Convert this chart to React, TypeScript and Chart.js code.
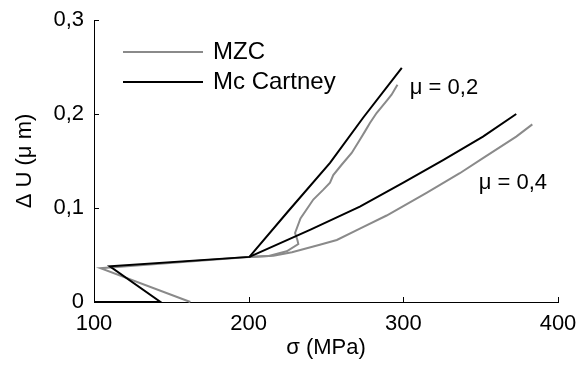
import React, { useEffect, useRef } from "react";
import { Chart, registerables } from "chart.js";

Chart.register(...registerables);

// ---- Data ----
const xTicks = [100, 200, 300, 400];
const yTicks = [0, 0.1, 0.2, 0.3];

const legendLabels = ["MZC", "Mc Cartney"];
const seriesColors = ["#8a8a8a", "#000000"];

// Mc Cartney, mu = 0.2 (includes the common unloading/loading part)
const mcCartneyMu02X = [100, 143, 110.2, 200.5, 225, 252.6, 274, 299];
const mcCartneyMu02Y = [0, 0, 0.038, 0.048, 0.0955, 0.148, 0.196, 0.249];

// Mc Cartney, mu = 0.4 (branch)
const mcCartneyMu04X = [200.5, 240, 271.9, 300, 325.7, 351.5, 373];
const mcCartneyMu04Y = [0.048, 0.077, 0.1015, 0.127, 0.151, 0.176, 0.2];

// MZC, mu = 0.2
const mzcMu02X = [
  162.3, 104.2, 200, 213, 224.6, 232.1, 231.5, 230, 233.5, 241.8, 248.3, 252.6,
  254.7, 260.1, 266.6, 271.9, 275.2, 278.4, 282.7, 289.2, 292.4, 296.2,
];
const mzcMu02Y = [
  0, 0.036, 0.048, 0.049, 0.054, 0.0617, 0.066, 0.0734, 0.089, 0.109, 0.1195,
  0.127, 0.135, 0.146, 0.1585, 0.1727, 0.1815, 0.1904, 0.201, 0.214, 0.2205,
  0.231,
];

// MZC, mu = 0.4 (branch)
const mzcMu04X = [200, 216, 228, 246, 257, 271.9, 289.2, 315, 336.5, 351.5, 373, 383.4];
const mzcMu04Y = [0.048, 0.0493, 0.053, 0.061, 0.066, 0.078, 0.092, 0.116, 0.137, 0.153, 0.176, 0.189];

const muLabels = ["\u03bc = 0,2", "\u03bc = 0,4"];
const muLabelX = [304.2, 348.7];
const muLabelY = [0.228, 0.127];

const toPoints = (xs: number[], ys: number[]) => xs.map((x, i) => ({ x, y: ys[i] }));

const FONT = "'Liberation Sans', Arial, sans-serif";

const overlayPlugin = {
  id: "overlay",
  afterDraw(chart: any) {
    const { ctx, chartArea } = chart;
    const xs = chart.scales.x;
    const ys = chart.scales.y;
    ctx.save();
    // inward tick marks
    ctx.strokeStyle = "#000";
    ctx.lineWidth = 1;
    xTicks.forEach((v) => {
      const px = Math.round(xs.getPixelForValue(v)) + 0.5;
      ctx.beginPath();
      ctx.moveTo(px, chartArea.bottom);
      ctx.lineTo(px, chartArea.bottom - 5);
      ctx.stroke();
    });
    yTicks.forEach((v) => {
      const py = Math.round(ys.getPixelForValue(v)) + 0.5;
      ctx.beginPath();
      ctx.moveTo(chartArea.left, py);
      ctx.lineTo(chartArea.left + 5, py);
      ctx.stroke();
    });

    // legend
    const legendY = [52, 82];
    ctx.font = `24px ${FONT}`;
    ctx.textBaseline = "middle";
    ctx.textAlign = "left";
    legendLabels.forEach((lbl, i) => {
      ctx.strokeStyle = seriesColors[i];
      ctx.lineWidth = 2;
      ctx.beginPath();
      ctx.moveTo(123, legendY[i]);
      ctx.lineTo(203, legendY[i]);
      ctx.stroke();
      ctx.fillStyle = "#000";
      ctx.fillText(lbl, 213, legendY[i]);
    });

    // mu annotations
    ctx.font = `22px ${FONT}`;
    muLabels.forEach((t, i) => {
      ctx.fillText(t, xs.getPixelForValue(muLabelX[i]), ys.getPixelForValue(muLabelY[i]));
    });
    ctx.restore();
  },
};

export default function App() {
  const ref = useRef<HTMLCanvasElement | null>(null);

  useEffect(() => {
    if (!ref.current) return;
    const common = { showLine: true, pointRadius: 0, borderWidth: 2, fill: false, tension: 0, clip: false as any };
    const chart = new Chart(ref.current, {
      type: "scatter",
      data: {
        datasets: [
          { ...common, label: legendLabels[1], data: toPoints(mcCartneyMu02X, mcCartneyMu02Y), borderColor: seriesColors[1], backgroundColor: seriesColors[1] },
          { ...common, label: legendLabels[1] + " 0,4", data: toPoints(mcCartneyMu04X, mcCartneyMu04Y), borderColor: seriesColors[1], backgroundColor: seriesColors[1] },
          { ...common, label: legendLabels[0], data: toPoints(mzcMu02X, mzcMu02Y), borderColor: seriesColors[0], backgroundColor: seriesColors[0] },
          { ...common, label: legendLabels[0] + " 0,4", data: toPoints(mzcMu04X, mzcMu04Y), borderColor: seriesColors[0], backgroundColor: seriesColors[0] },
        ],
      },
      options: {
        responsive: false,
        animation: false,
        devicePixelRatio: 1,
        layout: { padding: { top: 20, right: 20, left: 0, bottom: 0 } },
        plugins: { legend: { display: false }, tooltip: { enabled: false } },
        scales: {
          x: {
            type: "linear",
            min: 100,
            max: 400,
            afterFit: (s: any) => {
              s.height = 65;
              s.paddingLeft = 0;
              s.paddingRight = 0;
            },
            afterBuildTicks: (s: any) => { s.ticks = xTicks.map((v) => ({ value: v })); },
            ticks: { color: "#000", padding: 9, font: { family: FONT, size: 22 }, callback: (v: any) => String(v) },
            grid: { drawOnChartArea: false, drawTicks: false },
            border: { display: true, color: "#000", width: 1 },
            title: { display: true, text: "\u03c3 (MPa)", color: "#000", font: { family: FONT, size: 22 }, padding: { top: 0, bottom: 6 } },
          },
          y: {
            type: "linear",
            min: 0,
            max: 0.3,
            afterFit: (s: any) => {
              s.width = 94;
              s.paddingTop = 0;
              s.paddingBottom = 0;
            },
            afterBuildTicks: (s: any) => { s.ticks = yTicks.map((v) => ({ value: v })); },
            ticks: {
              color: "#000",
              padding: 10,
              font: { family: FONT, size: 22 },
              callback: (v: any) => (v === 0 ? "0" : Number(v).toFixed(1).replace(".", ",")),
            },
            grid: { drawOnChartArea: false, drawTicks: false },
            border: { display: true, color: "#000", width: 1 },
            title: { display: true, text: "\u0394 U (\u03bc m)", color: "#000", font: { family: FONT, size: 22 }, padding: { top: 12, bottom: 0 } },
          },
        },
      },
      plugins: [overlayPlugin],
    } as any);
    return () => chart.destroy();
  }, []);

  return (
    <div style={{ position: "fixed", left: 0, top: 0, width: 578, height: 367, background: "#fff" }}>
      <canvas ref={ref} width={578} height={367} style={{ width: 578, height: 367, display: "block" }} />
    </div>
  );
}
